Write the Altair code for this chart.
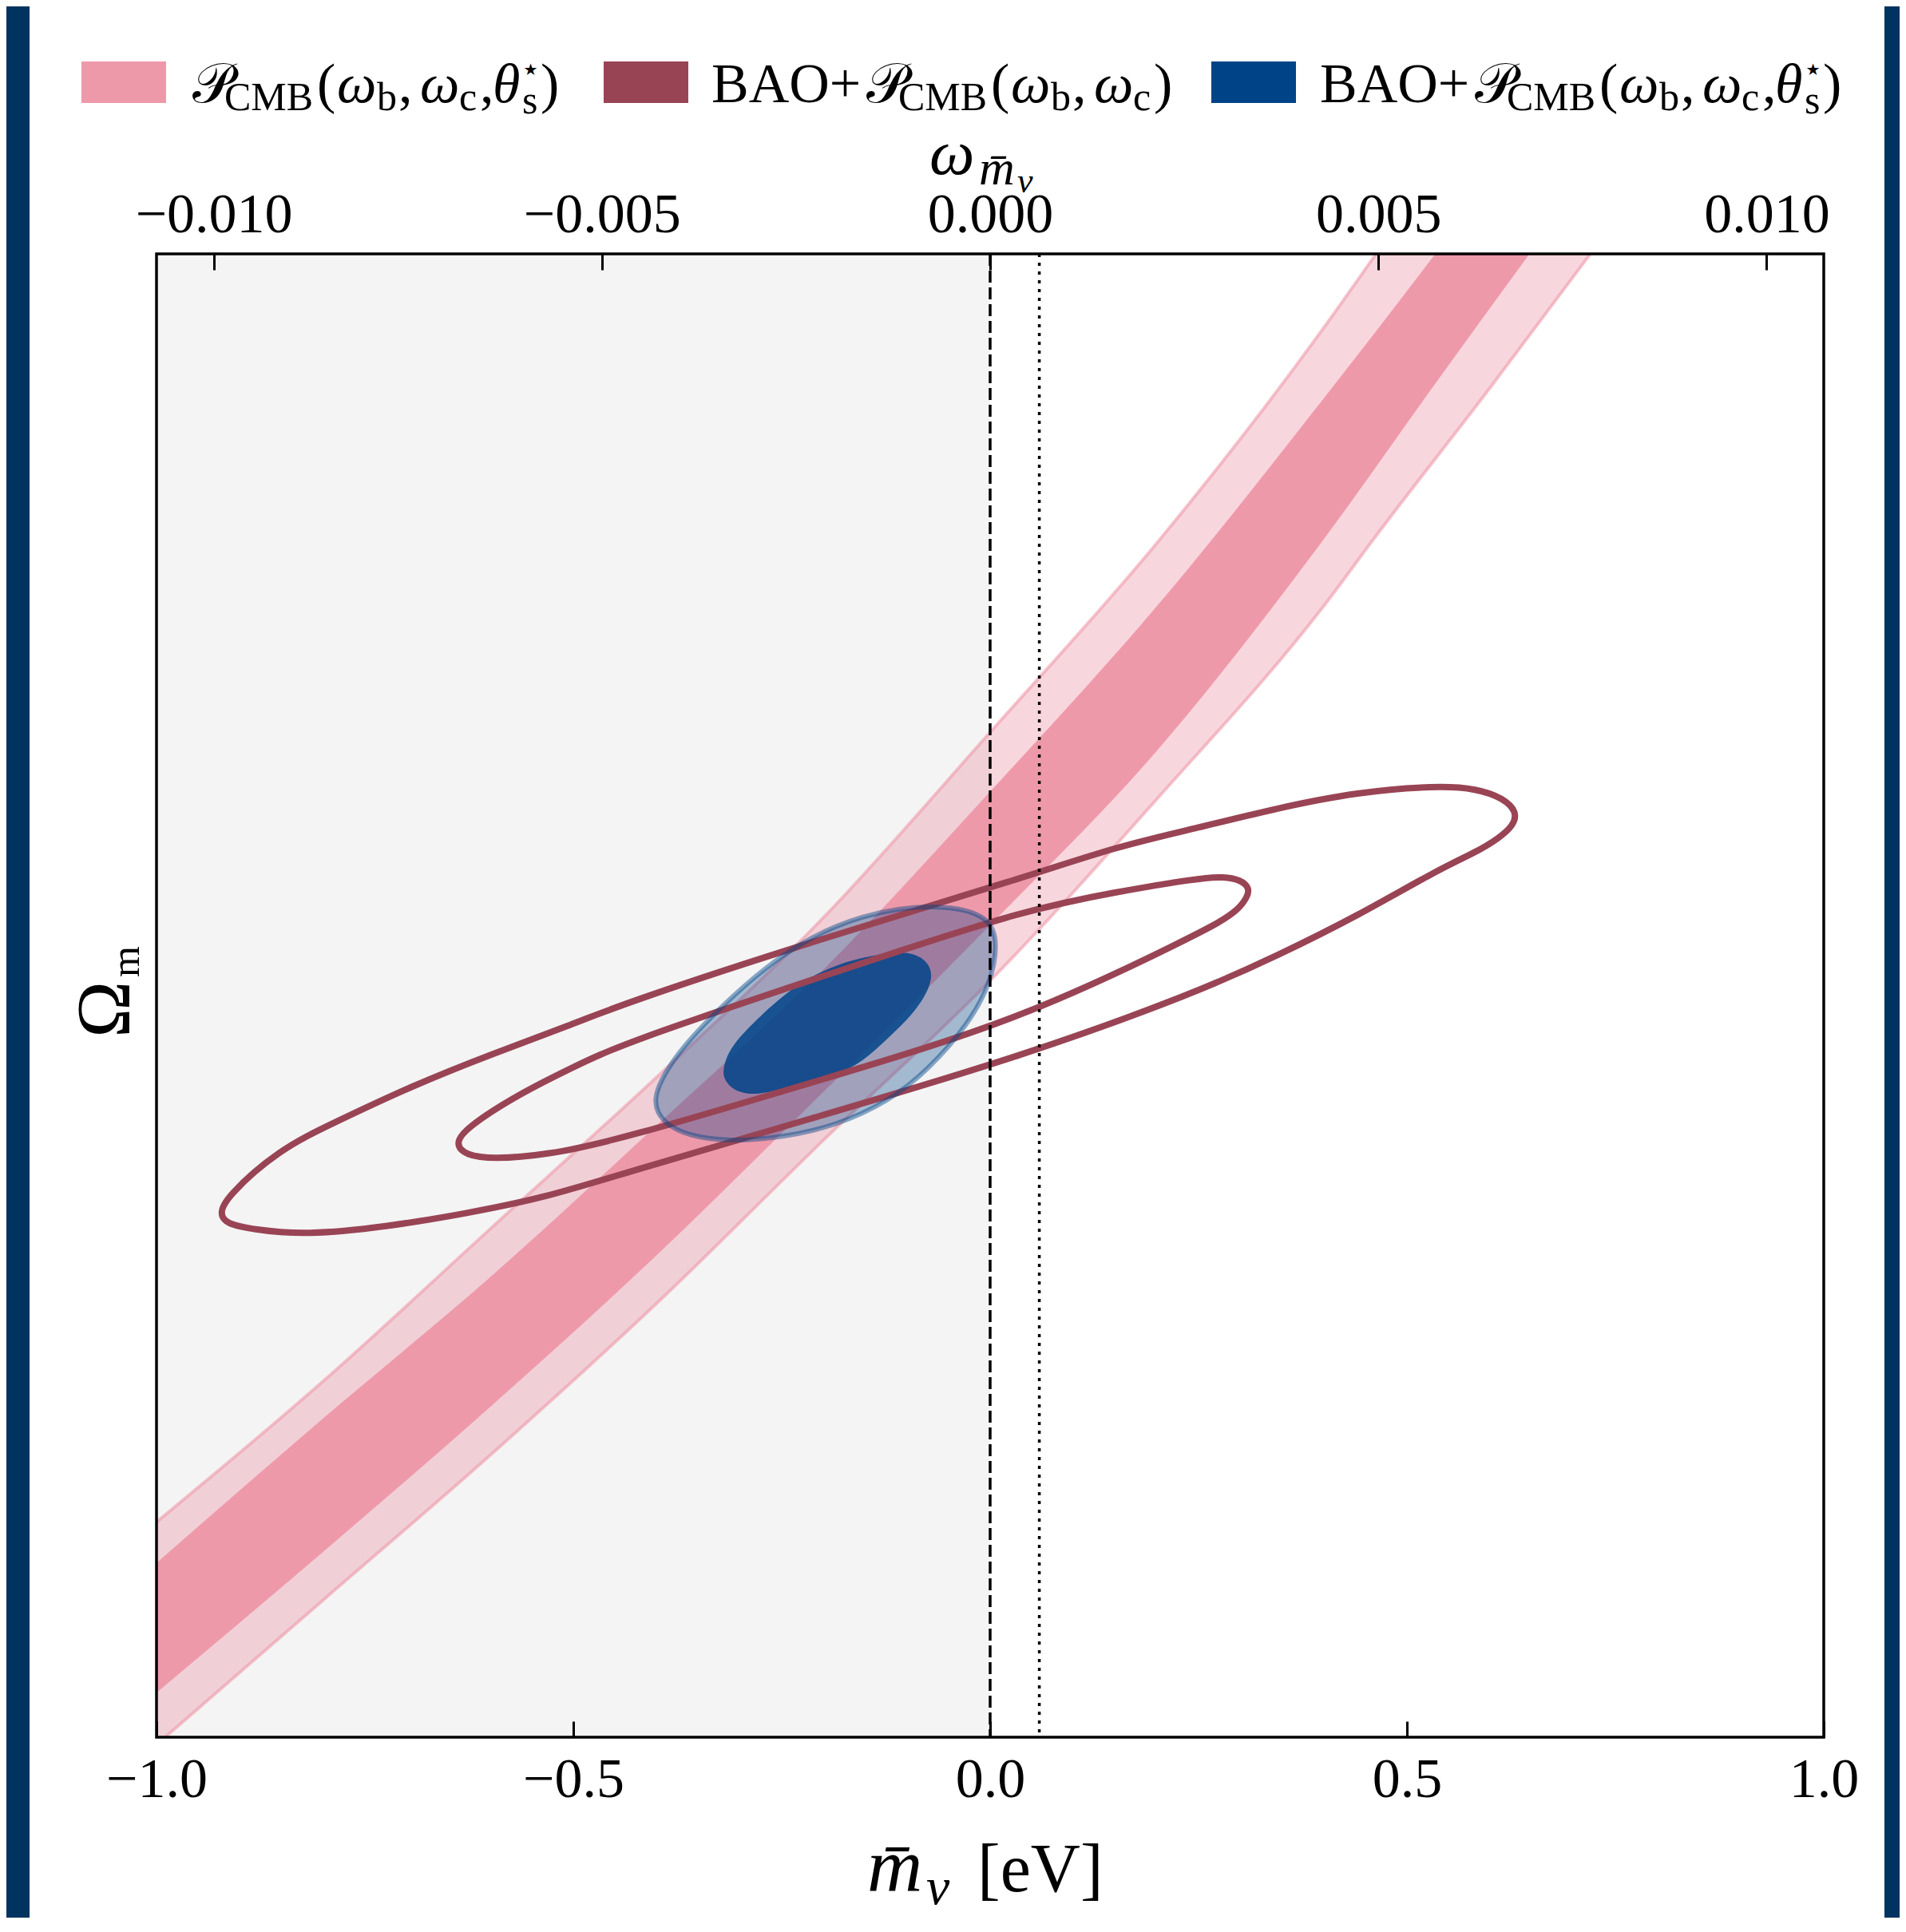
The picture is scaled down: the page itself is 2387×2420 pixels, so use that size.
import altair as alt
import pandas as pd

# ---------------- data ----------------
M_PER_OMEGA = 93.14          # eV per unit omega_nu (top axis conversion)
m_dashed = [0.0]
m_dotted = [0.059]

m_lim = [-1.0, 1.0]
omega_lim = [0.1, 0.5]
gray_m = [-1.0, 0.0]
x_ticks = [-1.0, -0.5, 0.0, 0.5, 1.0]
top_ticks = [-0.010, -0.005, 0.0, 0.005, 0.010]
y_ticks = [0.2, 0.3, 0.4]

# P_CMB(wb, wc, theta*) band: 95% and 68% edges (values past the top frame are clipped)
band95_m = [-1.0, -0.8, -0.6, -0.4, -0.2, 0.0, 0.2, 0.4, 0.463, 0.6, 0.72]
band95_hi = [0.158, 0.196, 0.237, 0.278, 0.321, 0.371, 0.422, 0.480, 0.5, 0.544, 0.585]
band95_lo = [0.098, 0.137, 0.176, 0.217, 0.261, 0.304, 0.353, 0.405, 0.424, 0.464, 0.5]
band68_m = [-1.0, -0.8, -0.6, -0.4, -0.2, 0.0, 0.2, 0.4, 0.534, 0.647]
band68_hi = [0.147, 0.186, 0.224, 0.265, 0.307, 0.355, 0.405, 0.461, 0.5, 0.534]
band68_lo = [0.112, 0.150, 0.189, 0.230, 0.274, 0.319, 0.366, 0.423, 0.465, 0.5]

# BAO + P_CMB(wb, wc): 95% and 68% contours
red95_m = [-0.924, -0.917, -0.853, -0.788, -0.693, -0.597, -0.501, -0.441, -0.201, 0.038,
           0.153, 0.249, 0.345, 0.441, 0.536, 0.584, 0.616, 0.632, 0.628, 0.610, 0.584,
           0.536, 0.441, 0.345, 0.249, 0.038, -0.201, -0.441, -0.534, -0.629, -0.725,
           -0.821, -0.884, -0.917]
red95_om = [0.2412, 0.2455, 0.2585, 0.2656, 0.2757, 0.2843, 0.2922, 0.2978, 0.3155, 0.3316,
            0.3403, 0.3452, 0.3506, 0.3549, 0.3566, 0.3558, 0.3532, 0.3495, 0.3459, 0.3424,
            0.3388, 0.3338, 0.3215, 0.3108, 0.3009, 0.2836, 0.2677, 0.2520, 0.2455, 0.2412,
            0.2376, 0.2354, 0.2369, 0.2385]
red68_m = [-0.642, -0.629, -0.565, -0.501, -0.441, -0.201, 0.038, 0.153, 0.249, 0.281, 0.300,
           0.311, 0.309, 0.297, 0.275, 0.249, 0.038, -0.201, -0.441, -0.534, -0.597, -0.629]
red68_om = [0.2600, 0.2643, 0.2735, 0.2806, 0.2871, 0.3052, 0.3230, 0.3280, 0.3316, 0.3321,
            0.3312, 0.3291, 0.3267, 0.3230, 0.3198, 0.3166, 0.2935, 0.2774, 0.2613, 0.2569,
            0.2559, 0.2569]

# BAO + P_CMB(wb, wc, theta*): 95% and 68% contours
blue95_m = [-0.407, -0.383, -0.345, -0.249, -0.153, -0.058, 0.0, 0.0096, 0.0, -0.026, -0.074,
            -0.122, -0.185, -0.249, -0.313, -0.361, -0.393]
blue95_om = [0.2720, 0.2821, 0.2923, 0.3123, 0.3224, 0.3248, 0.3215, 0.3138, 0.3030, 0.2923,
             0.2800, 0.2714, 0.2649, 0.2617, 0.2606, 0.2621, 0.2656]
blue68_m = [-0.321, -0.313, -0.281, -0.233, -0.185, -0.122, -0.089, -0.070, -0.070, -0.089,
            -0.122, -0.153, -0.185, -0.233, -0.281, -0.307, -0.319]
blue68_om = [0.2800, 0.2858, 0.2935, 0.3030, 0.3086, 0.3118, 0.3116, 0.3080, 0.3030, 0.2957,
             0.2886, 0.2821, 0.2785, 0.2757, 0.2729, 0.2742, 0.2772]

# ---------------- styling ----------------
PINK, RED, BLUE = "#EE99AA", "#994455", "#004488"
GRAY, NAVY = "#F4F4F4", "#00335F"
SERIF = "Liberation Serif"
SCRIPT = "Liberation Serif, DejaVu Serif, DejaVu Sans, Noto Sans, serif"
W, H = 2088, 1858

xs = alt.Scale(domain=m_lim, nice=False, zero=False)
ys = alt.Scale(domain=omega_lim, nice=False, zero=False)

ax_common = dict(tickSize=20, offset=-20, domain=False, grid=False, tickWidth=3,
                 tickColor="black", labelFont=SERIF, labelFontSize=70, labelColor="black",
                 labelBaseline="alphabetic", labelFlush=False, labelOverlap=False,
                 labelLimit=1000, title=None, zindex=1)
ax_bottom = alt.Axis(orient="bottom", values=x_ticks, format=".1f", labelPadding=74, **ax_common)
ax_top = alt.Axis(orient="top", values=[t * M_PER_OMEGA for t in top_ticks],
                  labelExpr="format(datum.value / %s, '.3f')" % M_PER_OMEGA,
                  labelPadding=28, **ax_common)
ax_left = alt.Axis(orient="left", values=y_ticks, labels=False, tickSize=20, offset=-20,
                   domain=False, grid=False, tickWidth=3, tickColor="black", title=None, zindex=1)


def X(f, axis=None):
    return alt.X(f, type="quantitative", scale=xs, axis=axis)


def Y(f, axis=None):
    return alt.Y(f, type="quantitative", scale=ys, axis=axis)


one = pd.DataFrame({"a": [0]})

# white figure panel on the navy page
panel = alt.Chart(one).mark_rect(color="white").encode(
    x=alt.value(-159), x2=alt.value(2164), y=alt.value(-310), y2=alt.value(2100))

gray_df = pd.DataFrame({"x0": [gray_m[0]], "x1": [gray_m[1]],
                        "y0": [omega_lim[0]], "y1": [omega_lim[1]]})
gray = alt.Chart(gray_df).mark_rect(color=GRAY).encode(
    x=X("x0", ax_bottom), x2="x1", y=Y("y0", ax_left), y2="y1")

b95 = pd.DataFrame({"m": band95_m, "hi": band95_hi, "lo": band95_lo})
b68 = pd.DataFrame({"m": band68_m, "hi": band68_hi, "lo": band68_lo})
area95 = alt.Chart(b95).mark_area(color=PINK, opacity=0.4, interpolate="monotone", clip=True).encode(
    x=X("m"), y=Y("hi"), y2="lo")
area68 = alt.Chart(b68).mark_area(color=PINK, opacity=1.0, interpolate="monotone", clip=True).encode(
    x=X("m"), y=Y("hi"), y2="lo")
edge_hi = alt.Chart(b95).mark_line(color=PINK, opacity=0.6, strokeWidth=4,
                                   interpolate="monotone", clip=True).encode(x=X("m"), y=Y("hi"))
edge_lo = alt.Chart(b95).mark_line(color=PINK, opacity=0.6, strokeWidth=4,
                                   interpolate="monotone", clip=True).encode(x=X("m"), y=Y("lo"))


def contour_df(ms, oms):
    return pd.DataFrame({"m": ms, "om": oms, "i": list(range(len(ms)))})


def closed(df, **kw):
    return alt.Chart(df).mark_line(interpolate="basis-closed", clip=True, **kw).encode(
        x=X("m"), y=Y("om"), order=alt.Order("i:Q"))


r95 = contour_df(red95_m, red95_om)
r68 = contour_df(red68_m, red68_om)
bl95 = contour_df(blue95_m, blue95_om)
bl68 = contour_df(blue68_m, blue68_om)

blue95_fill = closed(bl95, color=BLUE, fill=BLUE, fillOpacity=0.33, strokeWidth=0)
blue68_fill = closed(bl68, color=BLUE, fill=BLUE, fillOpacity=0.85, strokeWidth=0)
red95_line = closed(r95, color=RED, strokeWidth=8)
red68_line = closed(r68, color=RED, strokeWidth=8)
blue95_edge = closed(bl95, color=BLUE, strokeOpacity=0.45, strokeWidth=6)

dashed = alt.Chart(pd.DataFrame({"m": m_dashed})).mark_rule(
    color="black", strokeWidth=3.5, strokeDash=[15, 6]).encode(x=X("m"))
dotted = alt.Chart(pd.DataFrame({"m": m_dotted})).mark_rule(
    color="black", strokeWidth=3.5, strokeDash=[4, 7]).encode(x=X("m"))

frame_df = pd.DataFrame({"x0": [m_lim[0]], "x1": [m_lim[1]], "y0": [omega_lim[0]], "y1": [omega_lim[1]]})
frame = alt.Chart(frame_df).mark_rect(fillOpacity=0, stroke="black", strokeWidth=3.5).encode(
    x=X("x0"), x2="x1", y=Y("y0"), y2="y1")

top_axis_layer = alt.Chart(pd.DataFrame({"m": m_lim})).mark_point(opacity=0).encode(
    x=X("m", ax_top))


# ---------------- text pieces (legend and math titles) ----------------
def txt(s, x, y, size, italic=False, font=SERIF, angle=None):
    kw = dict(text=s, font=font, fontSize=size, fontStyle="italic" if italic else "normal",
              align="left", baseline="alphabetic", color="black")
    if angle is not None:
        kw["angle"] = angle
    return alt.Chart(one).mark_text(**kw).encode(x=alt.value(x), y=alt.value(y))


MAIN, SUB = 70, 50
LY, SY, LOWY, STARY = -190, -180, -176, -218


def pcmb(x0, with_theta):
    p = [txt("\U0001D4AB", x0, LY, MAIN, font=SCRIPT),
         txt("CMB", x0 + 40, SY, SUB),
         txt("(", x0 + 156, LY, MAIN),
         txt("ω", x0 + 181, LY, MAIN, True),
         txt("b", x0 + 231, SY, SUB),
         txt(",", x0 + 258, LY, MAIN),
         txt("ω", x0 + 285, LY, MAIN, True),
         txt("c", x0 + 334, SY, SUB)]
    if with_theta:
        p += [txt(",", x0 + 360, LY, MAIN),
              txt("θ", x0 + 376, LY, MAIN, True),
              txt("⋆", x0 + 411, STARY, 40, font="DejaVu Sans"),
              txt("s", x0 + 413, LOWY, SUB),
              txt(")", x0 + 436, LY, MAIN)]
    else:
        p += [txt(")", x0 + 360, LY, MAIN)]
    return p


def swatch(x0, color):
    return alt.Chart(one).mark_rect(color=color).encode(
        x=alt.value(x0), x2=alt.value(x0 + 106), y=alt.value(-241), y2=alt.value(-189))


legend = [swatch(-94, PINK), swatch(560, RED), swatch(1321, BLUE)]
legend += pcmb(45, True)
legend += [txt("BAO+", 695, LY, MAIN)] + pcmb(889, False)
legend += [txt("BAO+", 1457, LY, MAIN)] + pcmb(1651, True)

titles = [
    txt("ω", 968, -100, 80, True),
    txt("m\u0304", 1030, -87, 62, True),
    txt("ν", 1078, -77, 44, True),
    txt("m\u0304", 890, 2051, 96, True),
    txt("ν", 964, 2067, 66, True),
    txt("[eV]", 1028, 2051, 86),
    txt("Ω", -34, 982, 96, angle=270),
    txt("m", -22, 906, 50, angle=270),
]

layers = [panel, gray, area95, area68, edge_hi, edge_lo, blue95_fill, blue68_fill,
          red95_line, red68_line, blue95_edge, dashed, dotted, frame, top_axis_layer]
layers += legend + titles

chart = alt.layer(*layers).resolve_axis(x="independent").properties(
    width=W, height=H,
    autosize=alt.AutoSizeParams(type="none"),
    padding={"left": 188, "top": 310, "right": 95, "bottom": 226},
    background=NAVY,
).configure_view(strokeWidth=0)

chart.save("out.html", embed_options={"renderer": "svg", "actions": False})
